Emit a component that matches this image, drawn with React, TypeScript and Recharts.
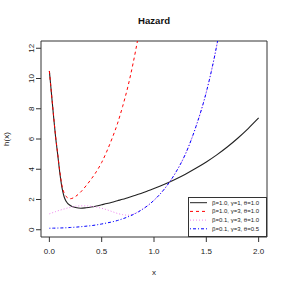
import React from "react";
import { LineChart, Line, XAxis, YAxis, ReferenceArea } from "recharts";

const FONT = '"Liberation Sans", Arial, Helvetica, sans-serif';

const xs = [
  0, 0.02, 0.04, 0.06, 0.08, 0.1, 0.12, 0.14, 0.16, 0.2, 0.25, 0.3, 0.35, 0.4, 0.45, 0.5,
  0.55, 0.6, 0.65, 0.7, 0.75, 0.8, 0.85, 0.9, 0.95, 1.0, 1.1, 1.2, 1.3, 1.4, 1.5, 1.6, 1.7,
  1.8, 1.9, 2.0,
];
const black = [
  10.5, 9.0, 7.5, 6.1, 4.95, 3.75, 2.8, 2.2, 1.88, 1.6, 1.47, 1.42, 1.45, 1.5, 1.57, 1.65,
  1.73, 1.82, 1.92, 2.01, 2.12, 2.23, 2.34, 2.46, 2.59, 2.72, 3.0, 3.32, 3.67, 4.06, 4.48,
  4.95, 5.47, 6.05, 6.69, 7.39,
];
const red = [
  10.5, 9.02, 7.55, 6.15, 5.0, 3.85, 2.95, 2.45, 2.2, 2.05, 2.2, 2.5, 2.9, 3.35, 3.85, 4.45,
  5.2, 6.05, 7.0, 8.15, 9.45, 11.0, 12.8, 14.9, null, null, null, null, null, null, null,
  null, null, null, null, null,
];
const pink = [
  1.05, 1.1, 1.15, 1.2, 1.25, 1.29, 1.33, 1.37, 1.41, 1.48, 1.55, 1.58, 1.58, 1.55, 1.5, 1.42,
  1.32, 1.2, 1.08, 1.0, 0.96, 1.04, 1.2, 1.4, 1.65, 1.95, 2.7, 3.7, 5.0, 6.8, 9.1, 12.2, 16.3,
  null, null, null,
];
const blue = [
  0.1, 0.102, 0.105, 0.108, 0.112, 0.116, 0.12, 0.125, 0.13, 0.15, 0.17, 0.2, 0.235, 0.27,
  0.32, 0.38, 0.45, 0.52, 0.61, 0.72, 0.85, 1.0, 1.18, 1.4, 1.65, 1.95, 2.7, 3.7, 5.0, 6.8,
  9.1, 12.2, 16.3, null, null, null,
];

const xTicks = [0, 0.5, 1, 1.5, 2];
const yTicks = [0, 2, 4, 6, 8, 10, 12];

const series = [
  { key: "black", label: "β=1.0, γ=1, θ=1.0", color: "#222222", dash: undefined },
  { key: "red", label: "β=1.0, γ=3, θ=1.0", color: "#ff0000", dash: "3 3" },
  { key: "pink", label: "β=0.1, γ=3, θ=1.0", color: "#ee82ee", dash: "1 2" },
  { key: "blue", label: "β=0.1, γ=3, θ=0.5", color: "#0000ff", dash: "1 2 3 2" },
];

const data = xs.map((x, i) => ({
  x,
  black: black[i],
  red: red[i],
  pink: pink[i],
  blue: blue[i],
}));

function YTick(props: any) {
  const { x, y, payload } = props;
  return (
    <text
      x={x}
      y={y}
      transform={`rotate(-90, ${x}, ${y})`}
      textAnchor="middle"
      fontSize={8}
      fill="#222"
      fontFamily={FONT}
    >
      {payload.value}
    </text>
  );
}

function YLabel(props: any) {
  const { viewBox } = props;
  const cx = 9;
  const cy = viewBox.y + viewBox.height / 2;
  return (
    <text
      x={cx}
      y={cy}
      transform={`rotate(-90, ${cx}, ${cy})`}
      textAnchor="middle"
      fontSize={8}
      fill="#222"
      fontFamily={FONT}
    >
      h(x)
    </text>
  );
}

function LegendBox() {
  return (
    <div
      style={{
        position: "absolute",
        left: 188,
        top: 197,
        width: 79,
        height: 40,
        boxSizing: "border-box",
        border: "1px solid #333",
        background: "#fff",
      }}
    >
      <svg width={77} height={38} style={{ display: "block" }}>
        {series.map((s, i) => {
          const y = 4.7 + i * 8.7;
          return (
            <g key={s.key}>
              <line x1={1} x2={18} y1={y} y2={y} stroke={s.color} strokeWidth={1} strokeDasharray={s.dash} />
              <text x={23} y={y} dominantBaseline="central" fontSize={6} fill="#222" fontFamily={FONT}>
                {s.label}
              </text>
            </g>
          );
        })}
      </svg>
    </div>
  );
}

export default function App() {
  return (
    <div style={{ position: "absolute", left: 0, top: 0, width: 288, height: 288, background: "#fff" }}>
      <div
        style={{
          position: "absolute",
          left: 0,
          top: 15,
          width: 308,
          textAlign: "center",
          fontFamily: FONT,
          fontWeight: "bold",
          fontSize: 9.6,
          lineHeight: "11px",
          color: "#111",
        }}
      >
        Hazard
      </div>
      <LineChart width={288} height={288} data={data} margin={{ top: 41, right: 21, bottom: 0, left: 0 }}>
        <XAxis
          dataKey="x"
          type="number"
          domain={[-0.08, 2.08]}
          allowDataOverflow
          ticks={xTicks}
          interval={0}
          tickFormatter={(v: number) => v.toFixed(1)}
          axisLine={false}
          tickSize={5}
          tickMargin={6}
          tickLine={{ stroke: "#333" }}
          tick={{ fontSize: 8, fill: "#222", fontFamily: FONT }}
          height={51}
          label={{ value: "x", position: "insideBottom", offset: 13.5, fontSize: 8, fill: "#222", fontFamily: FONT }}
        />
        <YAxis
          type="number"
          domain={[-0.48, 12.48]}
          allowDataOverflow
          ticks={yTicks}
          interval={0}
          axisLine={false}
          tickSize={5}
          tickMargin={2}
          tickLine={{ stroke: "#333" }}
          tick={<YTick />}
          width={41}
          label={{ content: <YLabel /> }}
        />
        <ReferenceArea x1={-0.08} x2={2.08} y1={-0.48} y2={12.48} fill="none" stroke="#333" strokeWidth={1} />
        {series.map((s) => (
          <Line
            key={s.key}
            dataKey={s.key}
            type="monotone"
            stroke={s.color}
            strokeWidth={s.key === "black" ? 1.1 : 1}
            strokeDasharray={s.dash}
            dot={false}
            activeDot={false}
            isAnimationActive={false}
          />
        ))}
      </LineChart>
      <LegendBox />
    </div>
  );
}
